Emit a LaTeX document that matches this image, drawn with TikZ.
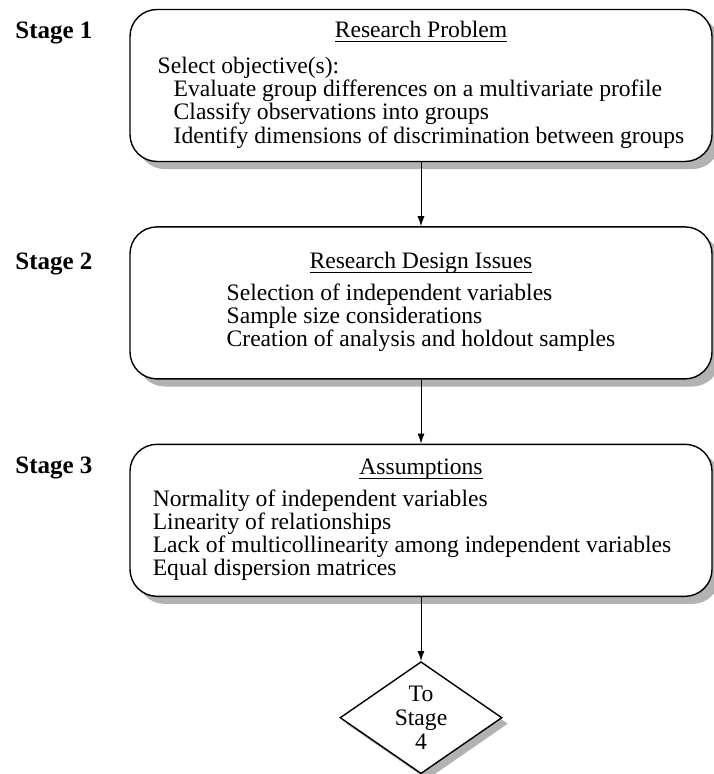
\documentclass[tikz,border=0pt]{standalone}
\usepackage{fontspec}
\setmainfont{Liberation Serif}
\usetikzlibrary{arrows.meta,shapes.geometric,positioning,calc,shadows}
\newcommand{\heading}[1]{\setbox0\hbox{#1}\rlap{\rule[-2.4pt]{\wd0}{0.5pt}}\box0}

\begin{document}
\begin{tikzpicture}[
  x=0.5pt, y=-0.5pt,
  every node/.style={font=\fontsize{11.8}{11}\selectfont},
  stagebox/.style={rectangle, draw, line width=0.7pt, fill=white,
                   rounded corners=13.5pt, minimum width=291pt,
                   minimum height=76pt, align=center, inner sep=0pt,
                   drop shadow={shadow xshift=3.8pt, shadow yshift=-3.8pt,
                                fill=black!30, opacity=1}},
  goto/.style={diamond, draw, line width=0.7pt, fill=white, aspect=1.45,
               minimum width=81pt, minimum height=56pt, inner sep=0pt,
               align=center, font=\fontsize{11.8}{11.8}\selectfont,
               drop shadow={shadow xshift=3pt, shadow yshift=-3pt,
                            fill=black!30, opacity=1}},
  stagelbl/.style={font=\fontsize{12.5}{13}\selectfont\bfseries,
                   inner sep=0pt, anchor=base west},
  arr/.style={-{Latex[length=5pt,width=3.5pt]}, line width=0.5pt},
]
\useasboundingbox (0,0) rectangle (713,774);

\node[stagebox] (problem) at (421,85.5)
  {\heading{Research Problem}\\[7pt]
   \begin{tabular}[t]{@{}l@{}}
   Select objective(s):\\
   \hspace*{8pt}Evaluate group differences on a multivariate profile\\
   \hspace*{8pt}Classify observations into groups\\
   \hspace*{8pt}Identify dimensions of discrimination between groups
   \end{tabular}};

\node[stagebox, below=32pt of problem] (design)
  {\heading{Research Design Issues}\\[5pt]
   \begin{tabular}[t]{@{}l@{}}
   Selection of independent variables\\
   Sample size considerations\\
   Creation of analysis and holdout samples
   \end{tabular}};

\node[stagebox, below=32pt of design] (assume)
  {\heading{Assumptions}\\[5pt]
   \begin{tabular}[t]{@{}l@{}}
   Normality of independent variables\\
   Linearity of relationships\\
   Lack of multicollinearity among independent variables\\
   Equal dispersion matrices
   \end{tabular}\hspace*{9pt}};

\node[goto, below=32pt of assume] (next) {To\\Stage\\4};

\coordinate (lft) at (15,0);
\node[stagelbl] (s1) at ($(problem.north -| lft)+(0,30)$) {Stage 1};
\node[stagelbl] (s2) at ($(design.north -| lft)+(0,43)$) {Stage 2};
\node[stagelbl] (s3) at ($(assume.north -| lft)+(0,30)$) {Stage 3};

\draw[arr] (problem) -- (design);
\draw[arr] (design) -- (assume);
\draw[arr] (assume) -- (next);

\end{tikzpicture}
\end{document}
